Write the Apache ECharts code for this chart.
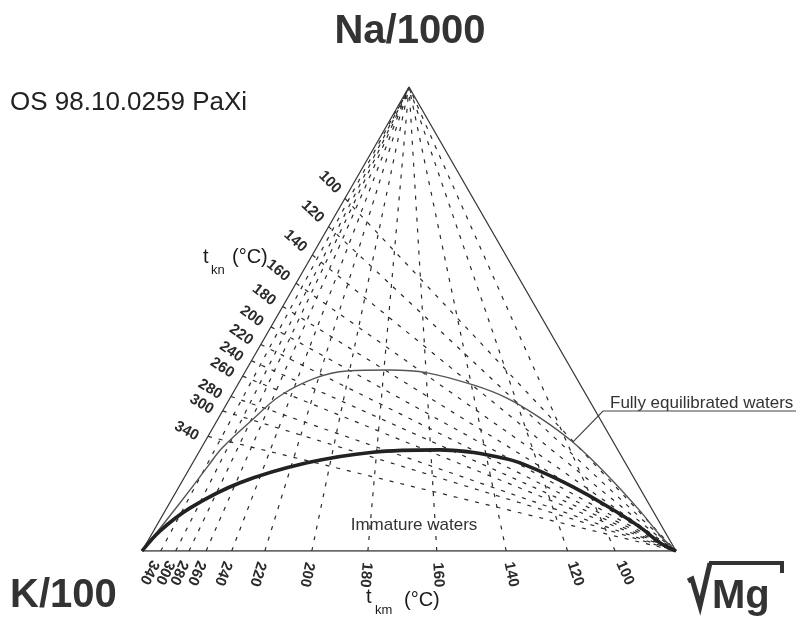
<!DOCTYPE html>
<html><head><meta charset="utf-8">
<script src="https://cdn.jsdelivr.net/npm/echarts@6/dist/echarts.min.js"></script>
<style>html,body{margin:0;padding:0;background:#fff}#c{width:801px;height:618px}</style>
</head><body><div id="c"></div>
<script>
// ---- data ----
// t_kn (Na/K) isotherms: where each meets the K/100 – Na/1000 edge (Na %, rest K)
const tknLabels = [100, 120, 140, 160, 180, 200, 220, 240, 260, 280, 300, 340];
const tknEdgeNa = [76.0, 69.9, 63.8, 57.7, 52.7, 48.3, 44.5, 41.0, 37.7, 33.3, 30.2, 24.7];
// t_km (K/Mg) isotherms: where each meets the K/100 – √Mg edge (Mg %, rest K)
const tkmLabels = [340, 300, 280, 260, 240, 220, 200, 180, 160, 140, 120, 100];
const tkmEdgeMg = [3.5, 6.3, 8.8, 12.0, 16.8, 23.0, 31.8, 42.3, 55.2, 68.2, 79.7, 88.6];
// curves as [Na/1000, K/100, √Mg] in %
const fullEquilibrium = [
  [0,100,0],[6.3,92.6,1.2],[13.1,84.4,2.4],[18.3,78.5,3.2],[22.2,73.9,3.9],[27.8,65.9,6.3],
  [33.4,57.5,9.1],[37.3,49.0,13.8],[38.8,42.2,19.0],[39.0,34.1,26.9],[38.4,27.4,34.2],
  [35.8,20.1,44.1],[33.0,15.2,51.9],[28.7,11.1,60.2],[23.5,7.6,69.0],[16.4,4.7,78.9],
  [8.6,2.4,89.0],[3.4,1.3,95.3],[0,0,100]
];
const immatureBoundary = [
  [0,100,0],[4.3,94.5,1.2],[9.3,86.4,4.4],[14.7,74.3,11.0],[19.0,59.6,21.4],[21.3,46.1,32.6],
  [21.8,33.3,44.9],[19.8,21.7,58.4],[17.2,16.9,65.9],[13.8,12.4,73.8],[9.7,8.1,82.2],
  [5.2,4.2,90.7],[1.7,2.1,96.1],[0,0,100]
];
const vertices = { Na: [100,0,0], K: [0,100,0], Mg: [0,0,100] };

// ternary -> cartesian (K at left, √Mg at right, Na at top)
function toXY(p) {
  const s = p[0] + p[1] + p[2];
  return [(p[2] + p[0] / 2) / s, p[0] / s];
}

const chart = echarts.init(document.getElementById('c'), null, { renderer: 'canvas' });
const dashed = { color: '#2a2a2a', width: 1.2, type: [4, 7] };
const series = [];
series.push({ type: 'line', data: [vertices.K, vertices.Na, vertices.Mg, vertices.K].map(toXY),
  symbol: 'none', lineStyle: { color: '#3a3a3a', width: 1.3 }, z: 5 });
tknEdgeNa.forEach(na => series.push({ type: 'line', symbol: 'none', lineStyle: dashed,
  data: [toXY([na, 100 - na, 0]), toXY(vertices.Mg)] }));
tkmEdgeMg.forEach(mg => series.push({ type: 'line', symbol: 'none', lineStyle: dashed,
  data: [toXY([0, 100 - mg, mg]), toXY(vertices.Na)] }));
series.push({ type: 'line', symbol: 'none', smooth: 0.35, data: fullEquilibrium.map(toXY),
  lineStyle: { color: '#555', width: 1.4 }, z: 6 });
series.push({ type: 'line', symbol: 'none', smooth: 0.35, data: immatureBoundary.map(toXY),
  lineStyle: { color: '#222', width: 3.6 }, z: 6 });

chart.setOption({
  animation: false,
  backgroundColor: '#fff',
  grid: { left: 142, right: 125, top: 87, bottom: 67 },
  xAxis: { type: 'value', min: 0, max: 1, show: false },
  yAxis: { type: 'value', min: 0, max: 1, show: false },
  series: series
});

const px = p => chart.convertToPixel({ gridIndex: 0 }, toXY(p));
const FONT = '"Liberation Sans", Arial, sans-serif';
const g = [];
function txt(x, y, text, size, opts) {
  opts = opts || {};
  g.push({ type: 'text', x: x, y: y, rotation: opts.rot || 0, z: 10,
    style: { text: text, x: 0, y: 0, fontSize: size, fontFamily: FONT,
      fontWeight: opts.bold ? 'bold' : 'normal', fill: opts.color || '#222',
      align: opts.align || 'left', verticalAlign: 'middle' } });
}

// t_kn labels along the isotherm extensions beyond the left edge
const M = px(vertices.Mg);
tknEdgeNa.forEach((na, i) => {
  const P = px([na, 100 - na, 0]);
  let dx = P[0] - M[0], dy = P[1] - M[1];
  const L = Math.hypot(dx, dy); dx /= L; dy /= L;
  const ang = 0.5 * Math.atan2(-dy, -dx) * 180 / Math.PI + 22;
  txt(P[0] + dx * 22, P[1] + dy * 22, String(tknLabels[i]), 15,
    { align: 'center', bold: true, color: '#2a2a2a', rot: -ang * Math.PI / 180 });
});
// t_km labels below the bottom edge
const A = px(vertices.Na);
tkmEdgeMg.forEach((mg, i) => {
  const P = px([0, 100 - mg, mg]);
  let dx = P[0] - A[0], dy = P[1] - A[1];
  const L = Math.hypot(dx, dy); dx /= L; dy /= L;
  const ang = Math.atan2(dy, dx) * 180 / Math.PI;
  txt(P[0] + dx * 24, P[1] + dy * 24, String(tkmLabels[i]), 15,
    { align: 'center', bold: true, color: '#2a2a2a', rot: -ang * Math.PI / 180 });
});

// titles and notes
txt(410, 32, 'Na/1000', 40, { bold: true, align: 'center', color: '#333' });
txt(10, 103, 'OS 98.10.0259 PaXi', 26, { color: '#222' });
txt(10, 596, 'K/100', 40, { bold: true, color: '#333' });
txt(712, 597, 'Mg', 40, { bold: true, color: '#333' });
g.push({ type: 'polyline', z: 10, shape: { points: [[688, 581], [692, 579], [700, 606], [710, 563]] },
  style: { stroke: '#333', lineWidth: 5, fill: null, lineJoin: 'miter' } });
g.push({ type: 'polyline', z: 10, shape: { points: [[709, 563], [782, 563], [782, 573]] },
  style: { stroke: '#333', lineWidth: 4, fill: null } });

txt(203, 257, 't', 20, { color: '#1a1a1a' });
txt(211, 270, 'kn', 13, { color: '#1a1a1a' });
txt(232, 257, '(\u00B0C)', 20, { color: '#1a1a1a' });
txt(366, 597, 't', 20, { color: '#1a1a1a' });
txt(375, 610, 'km', 13, { color: '#1a1a1a' });
txt(404, 600, '(\u00B0C)', 20, { color: '#1a1a1a' });

txt(414, 525, 'Immature waters', 17, { align: 'center', color: '#333' });
txt(610, 403, 'Fully equilibrated waters', 17, { color: '#333' });
const C = px(fullEquilibrium[14]);
g.push({ type: 'polyline', z: 10, shape: { points: [C, [603, 411], [796, 411]] },
  style: { stroke: '#444', lineWidth: 1.2, fill: null } });

chart.setOption({ graphic: g });
</script></body></html>
